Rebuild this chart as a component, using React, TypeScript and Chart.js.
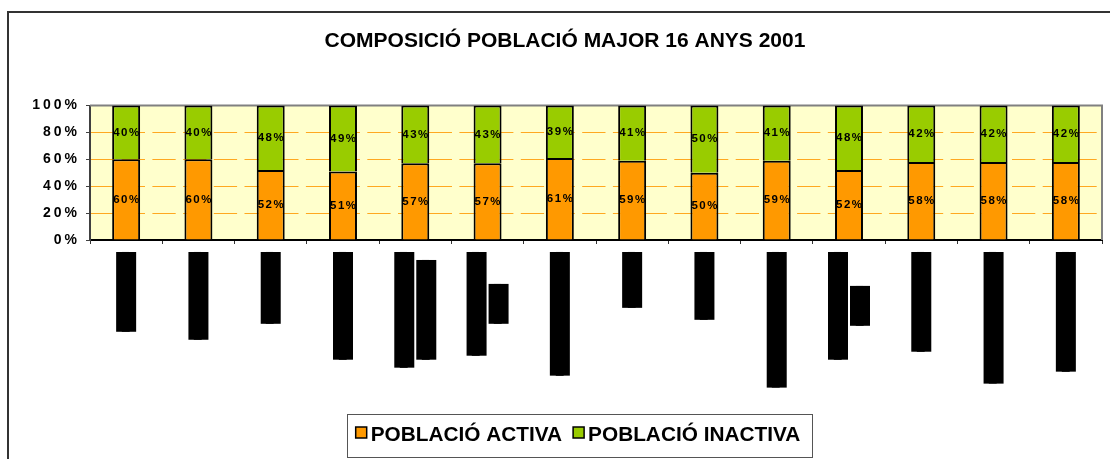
import React, { useEffect, useRef } from 'react';
import { Chart, registerables } from 'chart.js';

Chart.register(...registerables);

const TITLE = 'COMPOSICIÓ POBLACIÓ MAJOR 16 ANYS 2001';
const seriesNames = ['POBLACIÓ ACTIVA', 'POBLACIÓ INACTIVA'];

// Category labels are redacted in the reference: rendered as solid blocks
const categories: (string | string[])[] = [
  '████████████████████',
  '██████████████████████',
  '██████████████████',
  '███████████████████████████',
  ['█████████████████████████████', '█████████████████████████'],
  ['██████████████████████████', '██████████'],
  '███████████████████████████████',
  '██████████████',
  '█████████████████',
  '██████████████████████████████████',
  ['███████████████████████████', '██████████'],
  '█████████████████████████',
  '█████████████████████████████████',
  '██████████████████████████████',
];

const activa = [60, 60, 52, 51, 57, 57, 61, 59, 50, 59, 52, 58, 58, 58];
const inactiva = [40, 40, 48, 49, 43, 43, 39, 41, 50, 41, 48, 42, 42, 42];
const yTickValues = [0, 20, 40, 60, 80, 100];

const COLORS = ['#FF9900', '#99CC00'];
const FONT = '"Liberation Sans", Arial, sans-serif';
const LABEL_FONT = '6.644px "DejaVu Sans Mono"';
const LEGEND_DX = 13;

const plotBackground = {
  id: 'plotBackground',
  beforeDraw(chart: any) {
    const { ctx, chartArea: a } = chart;
    ctx.save();
    ctx.fillStyle = '#FFFFCC';
    ctx.fillRect(a.left, a.top, a.right - a.left, a.bottom - a.top);
    ctx.restore();
    const ys = chart.scales.y;
    if (ys && !ys.__ls) {
      const orig = ys.drawLabels;
      ys.drawLabels = function (area: any) {
        const c = this.ctx;
        c.save();
        c.letterSpacing = '3px';
        orig.call(this, area);
        c.restore();
      };
      ys.__ls = true;
    }
  },
  beforeDatasetsDraw(chart: any) {
    const { ctx, chartArea: a } = chart;
    ctx.save();
    ctx.strokeStyle = '#808080';
    ctx.lineWidth = 2;
    ctx.beginPath();
    ctx.moveTo(a.left, a.top);
    ctx.lineTo(a.right, a.top);
    ctx.lineTo(a.right, a.bottom);
    ctx.stroke();
    ctx.restore();
  },
};

const valueLabels = {
  id: 'valueLabels',
  afterDatasetsDraw(chart: any) {
    const { ctx } = chart;
    ctx.save();
    ctx.font = `bold 11.5px ${FONT}`;
    ctx.letterSpacing = '1.5px';
    ctx.fillStyle = '#000';
    ctx.textAlign = 'center';
    ctx.textBaseline = 'middle';
    chart.data.datasets.forEach((ds: any, di: number) => {
      const meta = chart.getDatasetMeta(di);
      meta.data.forEach((el: any, i: number) => {
        const v = ds.data[i];
        ctx.fillText(v + '%', el.x + 0.75, (el.y + el.base) / 2);
      });
    });
    ctx.restore();
  },
};

const redactedLabels = {
  id: 'redactedLabels',
  afterDraw(chart: any) {
    const { ctx } = chart;
    const xs = chart.scales.x;
    const labels = chart.data.labels as (string | string[])[];
    ctx.save();
    ctx.font = LABEL_FONT;
    labels.forEach((lab, i) => {
      const lines = Array.isArray(lab) ? lab : [lab];
      const widths = lines.map((l) => ctx.measureText(l).width);
      const maxW = Math.max(...widths);
      const px = xs.getPixelForTick(i);
      const top = chart.chartArea.bottom + 12;
      lines.forEach((line, j) => {
        const cx = px + (j - (lines.length - 1) / 2) * 22;
        const y0 = top + (maxW - widths[j]) / 2;
        ctx.fillStyle = '#000';
        ctx.fillRect(cx - 10, y0, 20, widths[j]);
        ctx.save();
        ctx.translate(cx, y0 + widths[j] / 2);
        ctx.rotate(-Math.PI / 2);
        ctx.textAlign = 'center';
        ctx.textBaseline = 'middle';
        ctx.fillText(line, 0, 0);
        ctx.restore();
      });
    });
    ctx.restore();
  },
};

const boxLegend = {
  id: 'boxLegend',
  afterDraw(chart: any) {
    const { ctx } = chart;
    ctx.save();
    ctx.font = `bold 20.8px ${FONT}`;
    const items = chart.data.datasets.map((ds: any) => ({
      text: ds.label as string,
      color: ds.backgroundColor as string,
      w: ctx.measureText(ds.label).width,
    }));
    const SW = 11;
    const GAP = 4;
    const ITEM_GAP = 11;
    let total = 0;
    items.forEach((it: any, i: number) => {
      total += SW + GAP + it.w + (i ? ITEM_GAP : 0);
    });
    const cx = chart.width / 2 + LEGEND_DX;
    const top = chart.chartArea.bottom + 174;
    let x = cx - total / 2;
    ctx.strokeStyle = '#555';
    ctx.lineWidth = 1;
    ctx.strokeRect(Math.round(x - 9) + 0.5, Math.round(top) + 0.5, Math.round(total + 20), 43);
    ctx.textAlign = 'left';
    ctx.textBaseline = 'alphabetic';
    items.forEach((it: any, i: number) => {
      if (i) x += ITEM_GAP;
      ctx.fillStyle = it.color;
      ctx.fillRect(x, top + 13, SW, SW);
      ctx.strokeStyle = '#000';
      ctx.lineWidth = 1.5;
      ctx.strokeRect(x, top + 13, SW, SW);
      x += SW + GAP;
      ctx.fillStyle = '#000';
      ctx.fillText(it.text, x, top + 26.7);
      x += it.w;
    });
    ctx.restore();
  },
};

export default function App() {
  const ref = useRef<HTMLCanvasElement>(null);
  useEffect(() => {
    if (!ref.current) return;
    const chart = new Chart(ref.current, {
      type: 'bar',
      data: {
        labels: categories,
        datasets: [
          {
            label: seriesNames[0],
            data: activa,
            backgroundColor: COLORS[0],
            borderColor: '#000',
            borderWidth: 2,
            barPercentage: 0.387,
            categoryPercentage: 1,
          },
          {
            label: seriesNames[1],
            data: inactiva,
            backgroundColor: COLORS[1],
            borderColor: '#000',
            borderWidth: 2,
            barPercentage: 0.387,
            categoryPercentage: 1,
          },
        ],
      },
      options: {
        responsive: false,
        animation: false,
        maintainAspectRatio: false,
        layout: { padding: { top: 0, left: 0, right: 0, bottom: 61 } },
        plugins: {
          title: {
            display: true,
            text: TITLE,
            color: '#000',
            font: { family: FONT, size: 21, weight: 'bold' },
            padding: { top: 15.8, bottom: 51.5 },
          },
          legend: { display: false },
          tooltip: { enabled: false },
        },
        scales: {
          x: {
            stacked: true,
            grid: {
              display: true,
              drawOnChartArea: false,
              drawTicks: true,
              tickLength: 4,
              tickColor: '#333',
              offset: true,
            },
            border: { display: true, color: '#000', width: 2 },
            ticks: { display: false, autoSkip: false },
            afterFit: (s: any) => {
              s.height = 172;
            },
          },
          y: {
            stacked: true,
            min: 0,
            max: 100,
            afterBuildTicks: (s: any) => {
              s.ticks = yTickValues.map((v) => ({ value: v }));
            },
            ticks: {
              color: '#000',
              font: { family: FONT, size: 14, weight: 'bold' },
              padding: 6,
              callback: (v: any) => v + '%',
            },
            grid: {
              color: (c: any) =>
                c.tick && c.tick.value > 0 && c.tick.value < 100 ? '#FFA820' : 'rgba(0,0,0,0)',
              lineWidth: 1,
              tickColor: '#404040',
              tickLength: 4,
            },
            border: { display: true, color: '#404040', width: 2, dash: [23.3, 7.4] },
            afterFit: (s: any) => {
              s.width = 81;
            },
          },
          y2: {
            position: 'right',
            display: true,
            grid: { display: false },
            ticks: { display: false },
            border: { display: false },
            afterFit: (s: any) => {
              s.width = 19;
            },
          },
        },
      },
      plugins: [plotBackground, valueLabels, redactedLabels, boxLegend],
    } as any);
    return () => chart.destroy();
  }, []);

  return (
    <div style={{ position: 'fixed', inset: 0, overflow: 'hidden', background: '#fff' }}>
      <div
        style={{
          position: 'absolute',
          left: 7,
          top: 11,
          width: 1140,
          height: 470,
          border: '2px solid #333',
        }}
      >
        <canvas
          ref={ref}
          width={1112}
          height={460}
          style={{ position: 'absolute', left: 0, top: 0, width: 1112, height: 460 }}
        />
      </div>
    </div>
  );
}
